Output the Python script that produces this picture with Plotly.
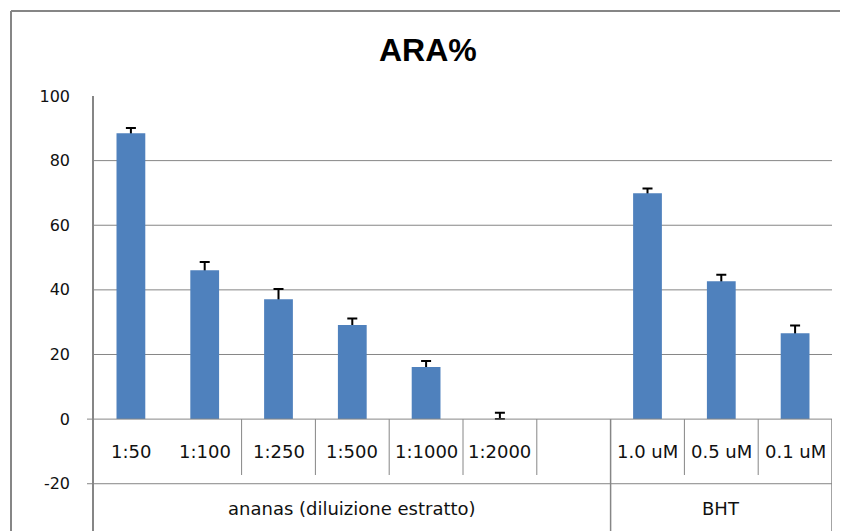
import plotly.graph_objects as go

# ---- data ----
categories = ["1:50", "1:100", "1:250", "1:500", "1:1000", "1:2000", "", "1.0 uM", "0.5 uM", "0.1 uM"]
ara_values = [88.5, 46.1, 37.1, 29.1, 16.1, 0.0, None, 69.9, 42.7, 26.6]
ara_errors = [1.6, 2.5, 3.2, 2.0, 1.9, 2.0, None, 1.5, 2.0, 2.4]
groups = ["ananas (diluizione estratto)", "BHT"]
group_spans = [(0, 6), (7, 9)]  # first/last category index of each group
y_ticks = [-20, 0, 20, 40, 60, 80, 100]
grid_values = [20, 40, 60, 80]

# ---- layout constants (page is offset by the 8px body margin) ----
OFF = 8
W, H = 848 - OFF, 531 - OFF
ML, MR, MT, MB = 94 - OFF, 16, 96 - OFF, 0
Y_MIN, Y_MAX = -34.63, 100
GRAY = "#868686"
BLUE = "#4F81BD"
FONT = "DejaVu Sans"

pw = W - ML - MR
ph = H - MT - MB
def px_x(px):  # page pixel -> paper x
    return (px - OFF - ML) / pw
def px_y(py):  # page pixel -> paper y
    return (H - MB - (py - OFF)) / ph

n = len(categories)
x = list(range(n))

# lower half of each error bar is hidden inside its bar (never below zero)
err_minus = [None if (v is None or e is None) else min(e, v) for v, e in zip(ara_values, ara_errors)]

fig = go.Figure()
# error bars (drawn first, lower half hidden under the bars)
fig.add_trace(go.Bar(
    x=x, y=ara_values, width=0.39,
    marker=dict(color="rgba(0,0,0,0)", line=dict(width=0)),
    error_y=dict(type="data", array=ara_errors, arrayminus=err_minus, symmetric=False,
                 color="#000000", thickness=2, width=5),
    hoverinfo="skip",
))
# bars
fig.add_trace(go.Bar(
    x=x, y=ara_values, width=0.39,
    marker=dict(color=BLUE, line=dict(width=0)),
))

shapes = []
# gridlines
for g in grid_values:
    shapes.append(dict(type="line", xref="x", yref="y", x0=-0.5, x1=n - 0.5, y0=g, y1=g,
                       line=dict(color=GRAY, width=1), layer="below"))
# baseline (0) and group separator (-20) with small ticks to the left
for g in [0, -20]:
    shapes.append(dict(type="line", xref="paper", yref="y", x0=px_x(87), x1=1, y0=g, y1=g,
                       line=dict(color=GRAY, width=1)))
# category dividers within the first label row
row_bottom = -17.3
group_edges = [span[1] + 0.5 for span in group_spans]
for i in range(1, n):
    b = i - 0.5
    if b == 0.5 or b in group_edges:
        continue
    shapes.append(dict(type="line", xref="x", yref="y", x0=b, x1=b, y0=0, y1=row_bottom,
                       line=dict(color=GRAY, width=1)))
# group dividers through both rows
for b in group_edges:
    shapes.append(dict(type="line", xref="x", yref="y", x0=b, x1=b, y0=0, y1=Y_MIN,
                       line=dict(color=GRAY, width=1.5)))
# outer chart frame (left and top)
shapes.append(dict(type="line", xref="paper", yref="paper", x0=px_x(11), x1=px_x(11),
                   y0=px_y(11), y1=px_y(540), line=dict(color=GRAY, width=2)))
shapes.append(dict(type="line", xref="paper", yref="paper", x0=px_x(11), x1=px_x(860),
                   y0=px_y(11), y1=px_y(11), line=dict(color=GRAY, width=2)))

annotations = []
for i, c in enumerate(categories):
    if c:
        annotations.append(dict(x=i, y=-9.9, xref="x", yref="y", text=c, showarrow=False,
                                font=dict(family=FONT, size=18, color="#111111"),
                                xanchor="center", yanchor="middle"))
for name, (a, b) in zip(groups, group_spans):
    annotations.append(dict(x=(a + b) / 2, y=-27.6, xref="x", yref="y", text=name, showarrow=False,
                            font=dict(family=FONT, size=18, color="#111111"),
                            xanchor="center", yanchor="middle"))
# title
annotations.append(dict(x=px_x(428), y=px_y(50), xref="paper", yref="paper", text="<b>ARA%</b>",
                        showarrow=False, xanchor="center", yanchor="middle",
                        font=dict(family="Liberation Sans", size=32, color="#000000")))

fig.update_layout(
    width=W, height=H,
    margin=dict(l=ML, r=MR, t=MT, b=MB),
    paper_bgcolor="white", plot_bgcolor="white",
    showlegend=False,
    barmode="overlay",
    xaxis=dict(range=[-0.5, n - 0.5], showgrid=False, zeroline=False, showline=False,
               showticklabels=False, ticks=""),
    yaxis=dict(range=[Y_MIN, Y_MAX], tickvals=y_ticks, ticktext=[str(t) for t in y_ticks],
               showgrid=False, zeroline=False,
               showline=True, linecolor=GRAY, linewidth=1.5, ticks="",
               ticklabelstandoff=19,
               tickfont=dict(family=FONT, size=16, color="#111111")),
    shapes=shapes,
    annotations=annotations,
)

fig.write_html("out.html")
